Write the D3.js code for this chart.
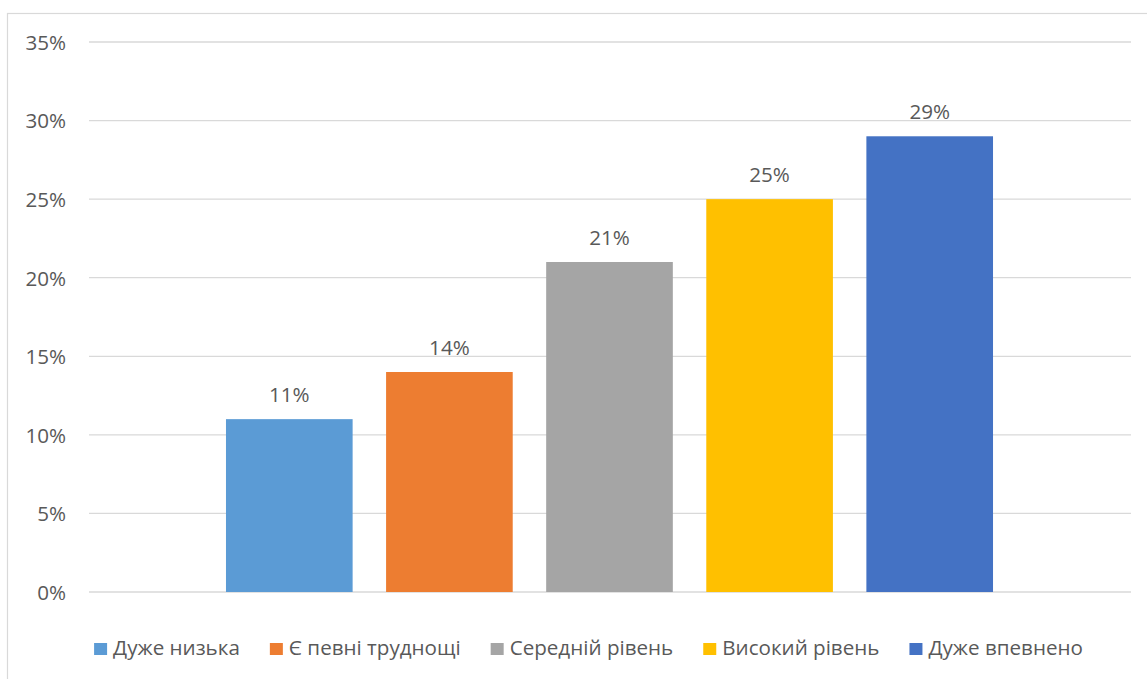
<!DOCTYPE html>
<html>
<head>
<meta charset="utf-8">
<script src="https://cdn.jsdelivr.net/npm/d3@7"></script>
<style>
  html, body { margin: 0; padding: 0; background: #ffffff; }
  svg { display: block; }
  text { font-family: "Open Sans", "Noto Sans", sans-serif; fill: #595959; }
</style>
</head>
<body>
<svg id="chart" width="1147" height="679"></svg>
<script>
const categories = ["Дуже низька", "Є певні труднощі", "Середній рівень", "Високий рівень", "Дуже впевнено"];
const values = [0.11, 0.14, 0.21, 0.25, 0.29];
const colors = ["#5B9BD5", "#ED7D31", "#A5A5A5", "#FFC000", "#4472C4"];
const yTicks = [0, 0.05, 0.10, 0.15, 0.20, 0.25, 0.30, 0.35];

const FS = 20.6;
const svg = d3.select("#chart");
const W = 1147, H = 679;
const plot = { left: 89, right: 1131, top: 42, bottom: 592 };

svg.append("rect").attr("width", W).attr("height", H).attr("fill", "#fff");
// chart area border (extends beyond the picture on right and bottom)
svg.append("rect")
  .attr("x", 7.5).attr("y", 13.5)
  .attr("width", 1200).attr("height", 700)
  .attr("fill", "none").attr("stroke", "#d9d9d9").attr("stroke-width", 1.2);

const y = d3.scaleLinear().domain([0, 0.35]).range([plot.bottom, plot.top]);
const x = d3.scaleBand().domain(categories)
  .range([209.25, 1009.75]).paddingInner(0.209).paddingOuter(0.1045);

const fmt = d3.format(".0%");

// gridlines
svg.append("g").selectAll("line").data(yTicks).join("line")
  .attr("x1", plot.left).attr("x2", plot.right)
  .attr("y1", d => y(d)).attr("y2", d => y(d))
  .attr("stroke", "#d9d9d9").attr("stroke-width", 1.3);

// y axis labels
const yAxis = d3.axisLeft(y).tickValues(yTicks).tickFormat(fmt).tickSize(0).tickPadding(0);
const gy = svg.append("g").attr("transform", "translate(66,0)").call(yAxis);
gy.select(".domain").remove();
gy.selectAll("text")
  .attr("font-family", "Open Sans, Noto Sans, sans-serif")
  .attr("font-size", FS).attr("fill", "#595959").attr("dy", "0.36em");

// bars
svg.append("g").selectAll("rect").data(categories).join("rect")
  .attr("x", d => x(d))
  .attr("width", x.bandwidth())
  .attr("y", (d, i) => y(values[i]))
  .attr("height", (d, i) => y(0) - y(values[i]))
  .attr("fill", (d, i) => colors[i]);

// data labels
svg.append("g").selectAll("text").data(categories).join("text")
  .attr("x", d => x(d) + x.bandwidth() / 2)
  .attr("y", (d, i) => y(values[i]) - 17)
  .attr("text-anchor", "middle")
  .attr("font-size", FS)
  .text((d, i) => fmt(values[i]));

// legend
const lg = svg.append("g");
const items = lg.selectAll("g").data(categories).join("g");
items.append("rect").attr("width", 13).attr("height", 12).attr("y", 643)
  .attr("fill", (d, i) => colors[i]);
items.append("text").attr("x", 19).attr("y", 655).attr("font-size", FS).text(d => d);
let widths = [];
items.each(function() { widths.push(19 + d3.select(this).select("text").node().getComputedTextLength()); });
const gap = 30;
const total = d3.sum(widths) + gap * (widths.length - 1);
let cx = 588.5 - total / 2;
items.each(function(d, i) {
  d3.select(this).attr("transform", `translate(${cx},0)`);
  cx += widths[i] + gap;
});
</script>
</body>
</html>
